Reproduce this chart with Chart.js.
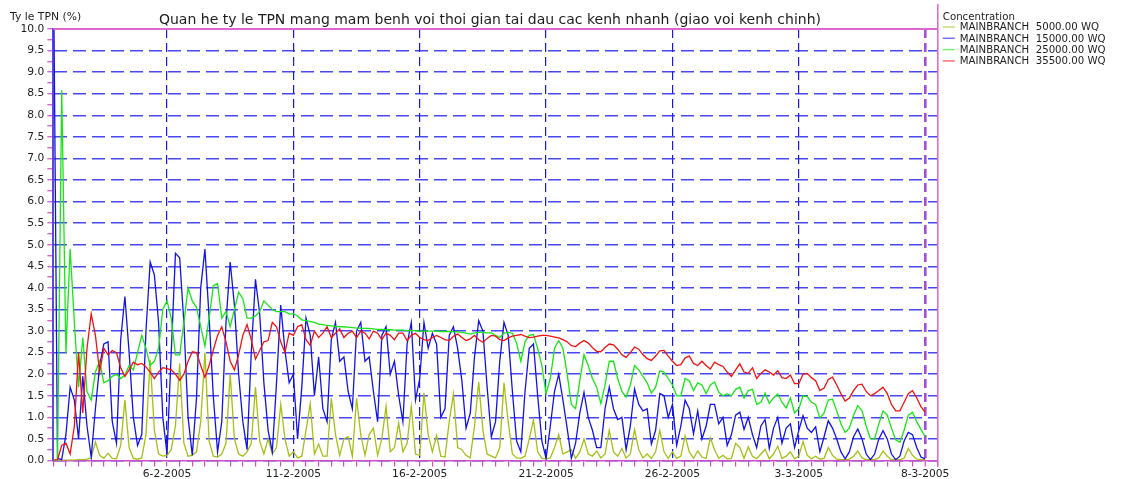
<!DOCTYPE html>
<html>
<head>
<meta charset="utf-8">
<script src="https://cdn.jsdelivr.net/npm/chart.js@4/dist/chart.umd.min.js"></script>
<style>
  html, body { margin: 0; padding: 0; background: #ffffff; }
  canvas { display: block; }
</style>
</head>
<body>
<canvas id="chart" width="1125" height="479"></canvas>
<script>
// Time grid: first sample 1-2-2005 12:00, one sample every 4 hours (x in days from start)
const stepHours = 4;
const axisDays = 35;                 // 1-2-2005 12:00 .. 8-3-2005 12:00

const titleText = 'Quan he ty le TPN mang mam benh voi thoi gian tai dau cac kenh nhanh (giao voi kenh chinh)';
const yAxisTitle = 'Ty le TPN (%)';
const legendTitle = 'Concentration';
const seriesNames = [
  'MAINBRANCH  5000.00 WQ',
  'MAINBRANCH  15000.00 WQ',
  'MAINBRANCH  25000.00 WQ',
  'MAINBRANCH  35500.00 WQ'
];
const seriesColors = ['#a4c014', '#1212e4', '#16e616', '#f21010'];

// Labelled date ticks (days from start) and their texts
const dateTickDays = [4.5, 9.5, 14.5, 19.5, 24.5, 29.5, 34.5];
const dateLabels = ['6-2-2005', '11-2-2005', '16-2-2005', '21-2-2005', '26-2-2005', '3-3-2005', '8-3-2005'];

// Ty le TPN (%) — one row per day (00:00 04:00 08:00 12:00 16:00 20:00)
const mb5000 = [
  0, 0, 0,
  0.01, 0.01, 0.01, 0.02, 0.02, 0.03,
  0.06, 0.43, 0.12, 0.05, 0.17, 0.05,
  0.04, 0.35, 1.4, 0.3, 0.05, 0.03,
  0.06, 0.6, 2.33, 0.7, 0.15, 0.1,
  0.12, 0.25, 0.8, 2.25, 0.4, 0.1,
  0.12, 0.2, 0.9, 2.5, 0.45, 0.1,
  0.08, 0.15, 0.4, 2.0, 0.5, 0.15,
  0.1, 0.2, 0.4, 1.7, 0.45, 0.15,
  0.5, 0.15, 0.3, 1.3, 0.5, 0.1,
  0.2, 0.06, 0.1, 0.7, 1.32, 0.15,
  0.38, 0.1, 0.1, 1.44, 0.6, 0.12,
  0.5, 0.55, 0.1, 1.44, 0.6, 0.12,
  0.6, 0.75, 0.12, 0.5, 1.26, 0.2,
  0.3, 0.87, 0.2, 0.4, 1.26, 0.15,
  0.12, 1.57, 0.6, 0.2, 0.58, 0.1,
  0.08, 0.9, 1.54, 0.3, 0.25, 0.12,
  0.06, 0.8, 1.82, 0.7, 0.15, 0.1,
  0.06, 0.3, 1.8, 0.9, 0.15, 0.06,
  0.05, 0.1, 0.5, 0.94, 0.2, 0.05,
  0.04, 0.06, 0.3, 0.6, 0.15, 0.2,
  0.25, 0.05, 0.2, 0.5, 0.15, 0.1,
  0.22, 0.06, 0.15, 0.7, 0.2, 0.1,
  0.28, 0.06, 0.15, 0.72, 0.25, 0.06,
  0.15, 0.05, 0.2, 0.7, 0.2, 0.05,
  0.2, 0.05, 0.1, 0.57, 0.2, 0.05,
  0.22, 0.08, 0.05, 0.53, 0.25, 0.05,
  0.12, 0.04, 0.05, 0.4, 0.3, 0.05,
  0.32, 0.1, 0.04, 0.15, 0.26, 0.04,
  0.15, 0.33, 0.05, 0.1, 0.2, 0.04,
  0.1, 0.44, 0.12, 0.04, 0.1, 0.03,
  0.05, 0.3, 0.12, 0.03, 0.02, 0.02,
  0.03, 0.1, 0.22, 0.06, 0.02, 0.02,
  0.02, 0.06, 0.22, 0.1, 0.02, 0.02,
  0.02, 0.05, 0.28, 0.12, 0.03, 0.02,
  0.02
];

const mb15000 = [
  12, 0.05, 0.02,
  0.6, 1.7, 1.4, 0.5, 1.95, 0.8,
  0.08, 1.2, 2.2, 2.7, 2.75, 0.9,
  0.4, 2.8, 3.8, 2.5, 1.0, 0.35,
  0.6, 3.0, 4.6, 4.3, 3.2, 1.0,
  0.15, 2.5, 4.8, 4.7, 3.2, 1.0,
  0.12, 1.45, 4.0, 4.9, 3.3, 1.47,
  0.2, 0.9, 3.2, 4.6, 3.6, 2.0,
  0.9, 0.25, 2.5, 4.2, 3.4, 1.8,
  0.7, 0.2, 1.8, 3.6, 2.55, 1.8,
  2.0, 0.5, 1.7, 3.3, 2.9, 1.5,
  2.4, 1.2, 0.9, 2.8, 3.2, 2.3,
  2.4, 1.6, 1.2, 3.0, 3.2, 2.3,
  2.4, 1.6, 0.9, 2.9, 3.1, 2.0,
  2.3, 1.5, 0.9, 2.7, 3.2, 1.4,
  1.9, 3.2, 2.6, 2.95, 2.7, 1.0,
  1.2, 2.9, 3.1, 2.6, 1.85, 0.75,
  1.1, 2.4, 3.24, 3.0, 1.7, 0.55,
  0.9, 2.3, 3.2, 2.9, 1.6, 0.45,
  0.2, 1.6, 2.6, 2.7, 1.5, 0.45,
  0.05, 0.8, 1.6, 2.0, 1.4, 0.75,
  0.05, 0.4, 1.1, 1.58, 1.0, 0.7,
  0.3, 0.3, 1.2, 1.7, 1.2, 0.95,
  1.0, 0.25, 0.8, 1.66, 1.3, 1.15,
  1.2, 0.38, 0.7, 1.55, 1.5, 1.0,
  1.3, 0.35, 0.8, 1.4, 1.2, 0.62,
  1.15, 0.5, 0.8, 1.3, 1.3, 0.85,
  1.0, 0.35, 0.6, 1.05, 1.12, 0.72,
  1.0, 0.6, 0.3, 0.8, 0.95, 0.28,
  0.75, 1.0, 0.4, 0.75, 0.85, 0.3,
  0.7, 1.04, 0.75, 0.65, 0.78, 0.2,
  0.55, 0.92, 0.75, 0.5, 0.2, 0.04,
  0.2, 0.55, 0.73, 0.5, 0.15, 0.02,
  0.15, 0.5, 0.69, 0.5, 0.15, 0.02,
  0.1, 0.45, 0.65, 0.6, 0.3, 0.08,
  0.04
];

const mb25000 = [
  0, 0.02, 8.58,
  2.5, 4.9, 3.2, 1.7, 2.85, 1.6,
  1.4, 2.05, 2.3, 1.8, 1.85, 1.95,
  2.0, 1.9, 1.98, 2.2, 2.1, 2.5,
  2.9, 2.6, 2.2, 2.3, 2.6, 3.5,
  3.7, 3.3, 2.45, 2.45, 3.2, 4.0,
  3.7, 3.55, 3.1, 2.65, 3.3, 4.05,
  4.1, 3.3, 3.45, 3.1, 3.5, 3.9,
  3.75, 3.3, 3.3, 3.35, 3.45, 3.7,
  3.6, 3.5, 3.45, 3.45, 3.45, 3.4,
  3.4, 3.35, 3.26, 3.24, 3.22, 3.2,
  3.16, 3.15, 3.13, 3.12, 3.11, 3.1,
  3.1, 3.09, 3.08, 3.07, 3.07, 3.06,
  3.06, 3.05, 3.04, 3.04, 3.03, 3.03,
  3.02, 3.02, 3.02, 3.01, 3.01, 3.01,
  3.0, 3.0, 3.0, 3.0, 3.0, 2.99,
  2.99, 2.99, 2.98, 2.98, 2.97, 2.95,
  2.93, 2.96, 2.97, 2.97, 2.96, 2.96,
  2.9, 2.85, 2.95, 2.97, 2.95, 2.72,
  2.3, 2.75, 2.9, 2.92, 2.6, 2.2,
  1.55, 1.9, 2.6, 2.78, 2.6, 2.0,
  1.3, 1.2, 1.85, 2.45, 2.2, 1.9,
  1.7, 1.32, 1.75, 2.3, 2.3, 1.9,
  1.6, 1.47, 1.75, 2.2, 2.1, 1.95,
  1.8, 1.56, 1.7, 2.08, 2.05, 1.9,
  1.75, 1.5, 1.5, 1.9, 1.85, 1.62,
  1.8, 1.75, 1.55, 1.75, 1.82, 1.58,
  1.5, 1.55, 1.5, 1.65, 1.7, 1.45,
  1.62, 1.65, 1.3, 1.35, 1.56, 1.32,
  1.45, 1.54, 1.35, 1.22, 1.45, 1.1,
  1.2, 1.5, 1.48, 1.35, 1.3, 0.98,
  1.1, 1.4, 1.42, 1.15, 0.85, 0.65,
  0.75, 1.05, 1.27, 1.15, 0.8, 0.5,
  0.5, 0.85, 1.15, 1.05, 0.75, 0.48,
  0.42, 0.7, 1.05, 1.12, 0.9, 0.72,
  0.55
];

const mb35500 = [
  0, 0.02, 0.35,
  0.4, 0.15, 0.8, 2.5, 1.1, 2.6,
  3.4, 2.9, 2.05, 2.6, 2.45, 2.55,
  2.5, 2.15, 1.95, 2.1, 2.28, 2.22,
  2.25, 2.17, 2.05, 1.9, 2.05, 2.15,
  2.13, 2.1, 2.0, 1.86, 2.0, 2.3,
  2.52, 2.5, 2.2, 1.93, 2.2, 2.56,
  2.9, 3.1, 2.75, 2.3, 2.1, 2.45,
  2.9, 3.15, 2.8, 2.35, 2.55, 2.75,
  2.78, 3.2, 3.1, 2.75, 2.5, 2.95,
  2.9, 3.1, 3.15, 2.8, 2.67, 3.0,
  2.85, 2.95, 3.1, 2.85, 2.95, 3.05,
  2.85, 2.95, 3.0, 2.85, 3.0, 2.95,
  2.82, 3.0, 2.95, 2.8, 2.95, 2.9,
  2.8, 2.95, 2.95, 2.78, 2.9, 2.95,
  2.85, 2.8, 2.78, 2.85, 2.9, 2.85,
  2.8, 2.78, 2.88, 2.93, 2.85, 2.78,
  2.82, 2.9, 2.8, 2.74, 2.83, 2.9,
  2.88, 2.8, 2.78, 2.84, 2.88, 2.9,
  2.92, 2.88, 2.85, 2.86, 2.88, 2.9,
  2.9, 2.88, 2.86, 2.84, 2.8, 2.75,
  2.66, 2.64, 2.72, 2.78, 2.72, 2.62,
  2.53, 2.52, 2.62, 2.7, 2.68, 2.58,
  2.45, 2.39, 2.5, 2.63, 2.58, 2.45,
  2.36, 2.32, 2.42, 2.54, 2.55, 2.42,
  2.3, 2.2, 2.22, 2.38, 2.42, 2.25,
  2.2, 2.3, 2.2, 2.12, 2.28, 2.22,
  2.18, 2.05, 1.95, 2.1, 2.24, 2.05,
  2.02, 2.15, 1.9, 2.02, 2.1, 2.05,
  1.98, 2.08, 1.92, 1.9, 1.98, 1.78,
  1.78, 2.0, 2.02, 1.92, 1.85, 1.62,
  1.68, 1.88, 1.93, 1.75, 1.55, 1.38,
  1.45, 1.62, 1.75, 1.77, 1.6, 1.5,
  1.55, 1.62, 1.7, 1.55, 1.3, 1.15,
  1.15, 1.35, 1.55, 1.62, 1.45, 1.25,
  1.12
];

const seriesValues = [mb5000, mb15000, mb25000, mb35500];

// Axis tick positions: every 12 hours on x, every 0.25 % on y
const xTickValues = [];
for (let k = 0; k <= axisDays * 2; k++) xTickValues.push(k / 2);
const yTickValues = [];
for (let k = 0; k <= 40; k++) yTickValues.push(k / 4);

const isDateTick = v => dateTickDays.includes(v);
const isHalfStep = v => Math.abs(v * 2 - Math.round(v * 2)) < 1e-9;
const lastDataDay = (mb15000.length - 1) * stepHours / 24;

const FONT = '"DejaVu Sans", "Liberation Sans", sans-serif';
const TEXT = '#1c1c1c';
const MAGENTA = '#d04cc8';

const datasets = seriesValues.map((vals, s) => ({
  label: seriesNames[s],
  data: vals.map((v, i) => ({ x: i * stepHours / 24, y: v })),
  borderColor: seriesColors[s],
  borderWidth: 1.3,
  pointRadius: 0,
  tension: 0,
  fill: false,
  order: 4 - s
}));

// Title, axis caption, legend and frame
const decorations = {
  id: 'decorations',
  afterDraw(chart) {
    const { ctx, chartArea: a } = chart;
    ctx.save();

    ctx.strokeStyle = '#dc66d4';
    ctx.lineWidth = 2;
    ctx.beginPath();
    ctx.moveTo(a.left, a.top);
    ctx.lineTo(a.right, a.top);
    ctx.stroke();
    ctx.lineWidth = 1.5;
    ctx.beginPath();
    ctx.moveTo(a.right, 4);
    ctx.lineTo(a.right, a.bottom + 6);
    ctx.stroke();

    ctx.fillStyle = TEXT;
    ctx.textBaseline = 'alphabetic';
    ctx.font = '14px ' + FONT;
    ctx.textAlign = 'center';
    ctx.fillText(titleText, 490, 24);

    ctx.font = '10.8px ' + FONT;
    ctx.textAlign = 'left';
    ctx.fillText(yAxisTitle, 10, 20);

    const lx = a.right + 5;
    ctx.font = '10.2px ' + FONT;
    ctx.fillText(legendTitle, lx, 19.5);
    seriesNames.forEach((name, s) => {
      const y = 27 + s * 11.3;
      ctx.strokeStyle = seriesColors[s];
      ctx.globalAlpha = 0.6;
      ctx.lineWidth = 1.5;
      ctx.beginPath();
      ctx.moveTo(lx, y);
      ctx.lineTo(lx + 12, y);
      ctx.stroke();
      ctx.globalAlpha = 1;
      ctx.fillStyle = TEXT;
      ctx.fillText(name, lx + 17, y + 3.4);
    });
    ctx.restore();
  }
};

new Chart(document.getElementById('chart'), {
  type: 'line',
  data: { datasets },
  options: {
    responsive: false,
    animation: false,
    devicePixelRatio: 1,
    layout: { padding: { left: 0, top: 29, right: 187.2, bottom: 0 } },
    plugins: {
      legend: { display: false },
      title: { display: false },
      tooltip: { enabled: false }
    },
    scales: {
      x: {
        type: 'linear',
        min: 0,
        max: axisDays,
        afterBuildTicks: scale => { scale.ticks = xTickValues.map(v => ({ value: v })); },
        afterFit: scale => { scale.height = 18.5; },
        ticks: {
          autoSkip: false,
          maxRotation: 0,
          padding: 1,
          color: TEXT,
          font: { family: FONT, size: 10.7 },
          callback: v => {
            const k = dateTickDays.indexOf(v);
            return k >= 0 ? dateLabels[k] : '';
          }
        },
        grid: {
          color: c => {
            const v = c.tick.value;
            if (!isDateTick(v)) return 'rgba(0,0,0,0)';
            return Math.abs(v - lastDataDay) < 1e-6 ? 'rgba(150,60,210,0.9)' : '#1818e0';
          },
          lineWidth: c => (Math.abs(c.tick.value - lastDataDay) < 1e-6 ? 2.6 : 1.2),
          tickColor: MAGENTA,
          tickLength: 6,
          tickWidth: 1.2
        },
        border: { display: true, color: MAGENTA, width: 1.6, dash: [9, 5] }
      },
      y: {
        min: 0,
        max: 10,
        afterBuildTicks: scale => { scale.ticks = yTickValues.map(v => ({ value: v })); },
        afterFit: scale => { scale.width = 53.3; },
        ticks: {
          autoSkip: false,
          padding: 3,
          color: TEXT,
          font: { family: FONT, size: 10.7 },
          callback: v => (isHalfStep(v) ? v.toFixed(1) : '')
        },
        grid: {
          color: c => (isHalfStep(c.tick.value) ? 'rgba(40,40,238,0.85)' : 'rgba(0,0,0,0)'),
          lineWidth: 1.5,
          tickColor: MAGENTA,
          tickLength: 6,
          tickWidth: 1.2
        },
        border: { display: true, color: '#5a4adf', width: 2, dash: [13, 6] }
      }
    }
  },
  plugins: [decorations]
});
</script>
</body>
</html>
